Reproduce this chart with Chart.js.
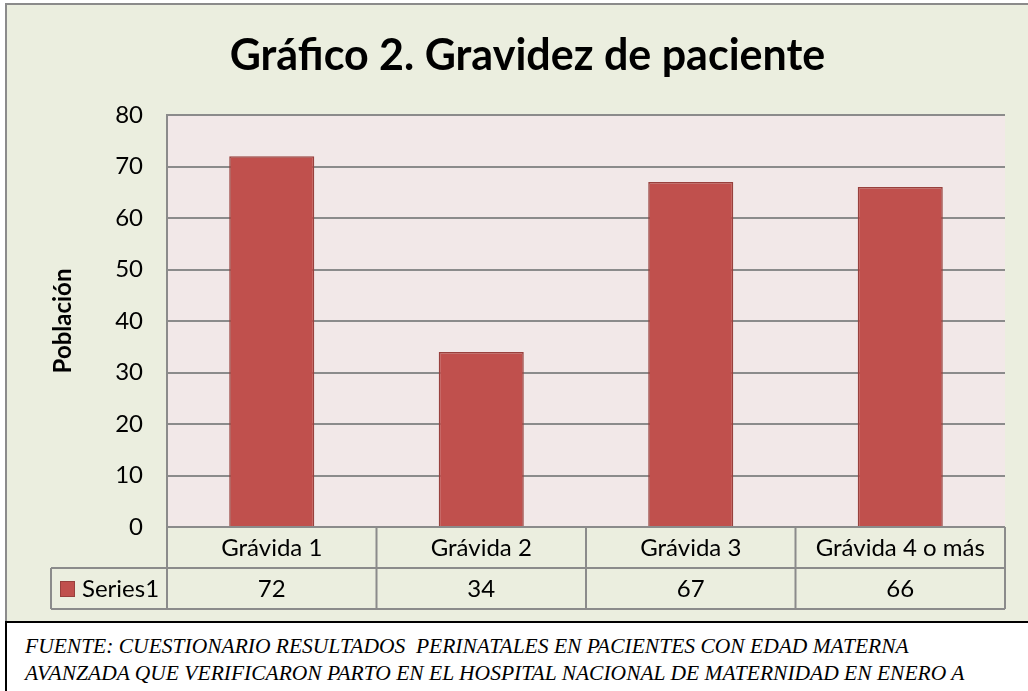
<!DOCTYPE html>
<html>
<head>
<meta charset="utf-8">
<title>Gráfico 2. Gravidez de paciente</title>
<script src="https://cdn.jsdelivr.net/npm/chart.js@4/dist/chart.umd.min.js"></script>
<style>
    html, body { margin: 0; padding: 0; width: 1028px; height: 691px; overflow: hidden; background: #fff; }
    #box {
        position: absolute; left: 5px; top: 3px;
        width: 1041px; height: 617px;
        background: #ebeedf;
        border-top: 2px solid #8b8b8b;
        border-left: 2px solid #8b8b8b;
    }
    #box canvas { display: block; }
    #note {
        position: absolute; left: 5px; top: 621px;
        width: 1040px; height: 80px;
        border-top: 2px solid #000;
        border-left: 2px solid #000;
        background: #fff;
        font-family: "Liberation Serif", serif;
        font-style: italic;
        font-size: 21.5px;
        line-height: 27px;
        padding: 10px 0 0 18px;
        white-space: pre;
    }
</style>
</head>
<body>
<div id="box"><canvas id="gravidezChart" width="1041" height="617"></canvas></div>
<div id="note">FUENTE: CUESTIONARIO RESULTADOS  PERINATALES EN PACIENTES CON EDAD MATERNA
AVANZADA QUE VERIFICARON PARTO EN EL HOSPITAL NACIONAL DE MATERNIDAD EN ENERO A</div>

<script>
// Data
const categories = ['Grávida 1', 'Grávida 2', 'Grávida 3', 'Grávida 4 o más'];
const seriesName = 'Series1';
const values = [72, 34, 67, 66];
const yMin = 0;
const yMax = 80;
const yStep = 10;

const barColor = '#c0504d';
const barBorder = '#98403d';
const lineGray = '#8b8b8b';
const fontFamily = 'Lato';

// pink plot area
const plotBackground = {
    id: 'plotBackground',
    beforeDraw(chart) {
        const { ctx, chartArea: a } = chart;
        ctx.save();
        ctx.fillStyle = '#f2e8e8';
        ctx.fillRect(a.left, a.top, a.right - a.left, a.bottom - a.top);
        ctx.restore();
    }
};

// data table under the x axis (labels + values + legend key)
const dataTable = {
    id: 'dataTable',
    afterDraw(chart) {
        const { ctx } = chart;
        const x = chart.scales.x;
        const top = chart.chartArea.bottom;
        const rowH = 41;
        const colW = (x.right - x.left) / categories.length;
        const legendLeft = 44;

        function line(x1, y1, x2, y2) {
            ctx.beginPath();
            ctx.moveTo(x1, y1);
            ctx.lineTo(x2, y2);
            ctx.stroke();
        }

        ctx.save();
        ctx.strokeStyle = lineGray;
        ctx.lineWidth = 2;
        line(x.left, top, x.right, top);
        line(legendLeft, top + rowH, x.right, top + rowH);
        line(legendLeft, top + 2 * rowH, x.right, top + 2 * rowH);
        for (let i = 0; i <= categories.length; i++) {
            line(x.left + i * colW, top, x.left + i * colW, top + 2 * rowH);
        }
        line(legendLeft, top + rowH, legendLeft, top + 2 * rowH);

        ctx.fillStyle = '#000';
        ctx.font = '24px ' + fontFamily;
        ctx.textAlign = 'center';
        ctx.textBaseline = 'middle';
        categories.forEach((c, i) => {
            ctx.fillText(c, x.getPixelForValue(i), top + rowH / 2 + 1);
        });
        values.forEach((v, i) => {
            ctx.fillText(String(v), x.getPixelForValue(i), top + rowH * 1.5 + 1);
        });

        // legend key
        ctx.fillStyle = barColor;
        ctx.fillRect(53, top + rowH + 13, 15, 16);
        ctx.strokeStyle = barBorder;
        ctx.lineWidth = 1;
        ctx.strokeRect(53.5, top + rowH + 13.5, 14, 15);
        ctx.fillStyle = '#000';
        ctx.textAlign = 'left';
        ctx.fillText(seriesName, 75, top + rowH * 1.5 + 1);
        ctx.restore();
    }
};

const ctx = document.getElementById('gravidezChart').getContext('2d');
new Chart(ctx, {
    type: 'bar',
    data: {
        labels: categories,
        datasets: [{
            label: seriesName,
            data: values,
            backgroundColor: barColor,
            borderColor: barBorder,
            borderWidth: 1.5,
            categoryPercentage: 1,
            barPercentage: 0.406
        }]
    },
    options: {
        responsive: false,
        animation: false,
        layout: {
            padding: { left: 43, right: 43, top: 0, bottom: 95 }
        },
        plugins: {
            legend: { display: false },
            tooltip: { enabled: false },
            title: {
                display: true,
                text: 'Gráfico 2. Gravidez de paciente',
                color: '#000',
                font: { family: fontFamily, size: 43, weight: 'bold', lineHeight: 1.2 },
                padding: { top: 25, bottom: 33.4 }
            }
        },
        scales: {
            x: { display: false },
            y: {
                min: yMin,
                max: yMax,
                ticks: {
                    stepSize: yStep,
                    color: '#000',
                    padding: 24,
                    font: { family: fontFamily, size: 24 }
                },
                grid: { color: lineGray, lineWidth: 2, drawTicks: false },
                border: { display: true, color: lineGray, width: 2 },
                title: {
                    display: true,
                    text: 'Población',
                    color: '#000',
                    font: { family: fontFamily, size: 24, weight: 'bold', lineHeight: 1.2 },
                    padding: { top: -1, bottom: 0 }
                },
                afterFit(scale) {
                    scale.width = 117;
                }
            }
        }
    },
    plugins: [plotBackground, dataTable]
});
</script>
</body>
</html>
